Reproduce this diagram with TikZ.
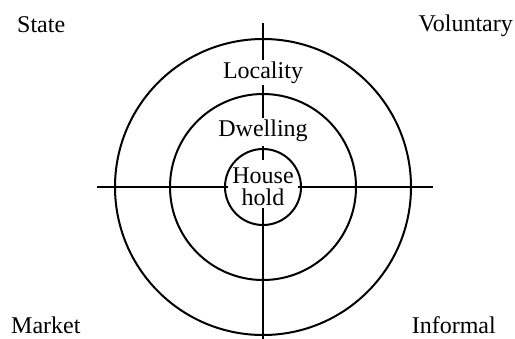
\documentclass[tikz,border=0pt]{standalone}
\usepackage{fontspec}
\setmainfont{Liberation Serif}
\usetikzlibrary{positioning}

\begin{document}
\begin{tikzpicture}[
  x=1bp, y=-1bp,
  ring/.style={line width=2bp},
  ax/.style={line width=2bp},
  lbl/.style={font=\fontsize{24bp}{22bp}\selectfont, inner sep=1.5bp, anchor=base},
  corner/.style={font=\fontsize{24bp}{22bp}\selectfont, inner sep=0pt}
]
  \useasboundingbox (0,0) rectangle (515,338);
  % --- rings ---
  \coordinate (c) at (263,187);
  \draw[ring] (c) circle (148);
  \draw[ring] (c) circle (93);
  \node[ring, draw, circle, minimum size=76bp, inner sep=0pt, align=center,
        font=\fontsize{24bp}{22bp}\selectfont] (hh) at (c) {House\\hold};
  % --- ring labels ---
  \node[lbl] (loc) at (263,78) {Locality};
  \node[lbl] (dwell) at (263,136) {Dwelling};
  % --- sectors ---
  \node[corner, anchor=base west] (state) at (17,32) {State};
  \node[corner, anchor=base east] (vol) at (513,31) {Voluntary};
  \node[corner, anchor=base west] (market) at (11,333) {Market};
  \node[corner, anchor=base east] (inf) at (496,333) {Informal};
  % --- axes ---
  \coordinate (top) at (263,23);
  \coordinate (bot) at (263,340);
  \coordinate (lft) at (97,187);
  \coordinate (rgt) at (433,187);
  \coordinate (tn1) at (263,146);
  \coordinate (tn2) at (263,160);
  \coordinate (ts) at (263,208);
  \coordinate (tw) at (228,187);
  \coordinate (te) at (298,187);
  \draw[ax] (top) -- (loc.north);
  \draw[ax] (loc.south) -- (dwell.north);
  \draw[ax] (tn1) -- (tn2);
  \draw[ax] (ts) -- (bot);
  \draw[ax] (lft) -- (tw);
  \draw[ax] (te) -- (rgt);
\end{tikzpicture}
\end{document}
